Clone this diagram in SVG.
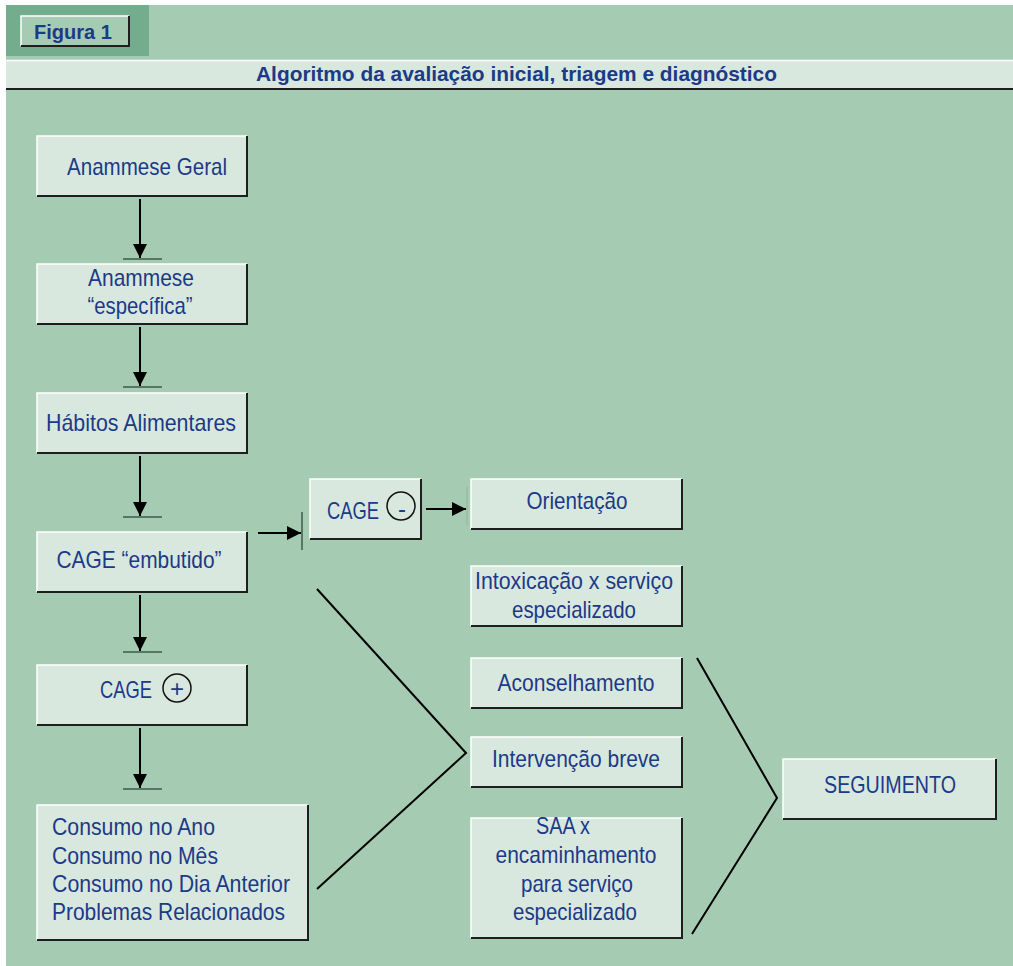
<svg xmlns="http://www.w3.org/2000/svg" width="1013" height="966" viewBox="0 0 1013 966">
<style>
.box{fill:#d9e8df}
.hl{fill:none;stroke:#ffffff;stroke-width:1.5}
.sh{fill:none;stroke:#1e1e1e;stroke-width:2}
.t{font-family:"Liberation Sans Narrow","Liberation Sans",Arial,sans-serif;font-size:24px;fill:#1b3a87;text-anchor:middle}
.tl{font-family:"Liberation Sans Narrow","Liberation Sans",Arial,sans-serif;font-size:24px;fill:#1b3a87}
.b{font-family:"Liberation Sans",Arial,sans-serif;font-weight:bold;fill:#1b3a87}
.c{fill:none;stroke:#000;stroke-width:2}
.bar{stroke:#3c5a48;stroke-width:1.5}
.circ{fill:none;stroke:#111;stroke-width:1.5}
</style>
<defs>
<marker id="ah" viewBox="0 0 10 10" refX="10" refY="5" markerWidth="7" markerHeight="7" orient="auto" markerUnits="strokeWidth">
<path d="M0,0 L10,5 L0,10 Z" fill="#000"/>
</marker>
</defs>
<rect width="1013" height="966" fill="#ffffff"/>
<rect x="6" y="5" width="1007" height="961" fill="#a6cbb3"/>
<g id="figura">
<rect x="6" y="5" width="143" height="51" fill="#74ad8e"/>
<rect x="21" y="16" width="108" height="30" fill="#a6cbb3"/>
<path d="M21,46 V16 H129" class="hl"/>
<path d="M21,46 H129 V16" class="sh"/>
<text x="34" y="39" class="b" font-size="21" textLength="78" lengthAdjust="spacingAndGlyphs">Figura 1</text>
</g>
<g id="title">
<rect x="6" y="60" width="1007" height="29" fill="#d9e8df"/>
<line x1="6" y1="60.5" x2="1013" y2="60.5" stroke="#fff" stroke-width="1.5"/>
<line x1="6" y1="89" x2="1013" y2="89" stroke="#1e1e1e" stroke-width="2"/>
<text x="256" y="81" class="b" font-size="21" textLength="521" lengthAdjust="spacingAndGlyphs">Algoritmo da avaliação inicial, triagem e diagnóstico</text>
</g>
<g id="n1">
<rect x="37" y="136" width="210" height="60" class="box"/>
<path d="M37,196 V136 H247" class="hl"/><path d="M37,196 H247 V136" class="sh"/>
<text x="147" y="175" class="t" textLength="160" lengthAdjust="spacingAndGlyphs">Anammese Geral</text>
</g>
<g id="n2">
<rect x="37" y="264" width="210" height="60" class="box"/>
<path d="M37,324 V264 H247" class="hl"/><path d="M37,324 H247 V264" class="sh"/>
<text x="141" y="286" class="t" textLength="106" lengthAdjust="spacingAndGlyphs">Anammese</text>
<text x="140" y="314" class="t" textLength="105" lengthAdjust="spacingAndGlyphs">“específica”</text>
</g>
<g id="n3">
<rect x="37" y="393" width="210" height="60" class="box"/>
<path d="M37,453 V393 H247" class="hl"/><path d="M37,453 H247 V393" class="sh"/>
<text x="141" y="431" class="t" textLength="190" lengthAdjust="spacingAndGlyphs">Hábitos Alimentares</text>
</g>
<g id="n4">
<rect x="37" y="532" width="210" height="60" class="box"/>
<path d="M37,592 V532 H247" class="hl"/><path d="M37,592 H247 V532" class="sh"/>
<text x="139" y="568" class="t" textLength="165" lengthAdjust="spacingAndGlyphs">CAGE “embutido”</text>
</g>
<g id="n5">
<rect x="37" y="665" width="210" height="60" class="box"/>
<path d="M37,725 V665 H247" class="hl"/><path d="M37,725 H247 V665" class="sh"/>
<text x="126" y="698" class="t" textLength="52" lengthAdjust="spacingAndGlyphs">CAGE</text>
<circle cx="177" cy="688" r="14" class="circ"/>
<text x="177" y="697" class="t" font-size="18">+</text>
</g>
<g id="n6">
<rect x="37" y="805" width="271" height="135" class="box"/>
<path d="M37,940 V805 H308" class="hl"/><path d="M37,940 H308 V805" class="sh"/>
<text x="52" y="835" class="tl" textLength="163" lengthAdjust="spacingAndGlyphs">Consumo no Ano</text>
<text x="52" y="864" class="tl" textLength="166" lengthAdjust="spacingAndGlyphs">Consumo no Mês</text>
<text x="52" y="892" class="tl" textLength="238" lengthAdjust="spacingAndGlyphs">Consumo no Dia Anterior</text>
<text x="52" y="920" class="tl" textLength="233" lengthAdjust="spacingAndGlyphs">Problemas Relacionados</text>
</g>
<g id="n7">
<rect x="310" y="479" width="111" height="60" class="box"/>
<path d="M310,539 V479 H421" class="hl"/><path d="M310,539 H421 V479" class="sh"/>
<text x="353" y="519" class="t" textLength="52" lengthAdjust="spacingAndGlyphs">CAGE</text>
<circle cx="401" cy="506" r="14" class="circ"/>
<text x="402" y="517" class="t" font-size="18">-</text>
</g>
<g id="n8">
<rect x="471" y="479" width="211" height="50" class="box"/>
<path d="M471,529 V479 H682" class="hl"/><path d="M471,529 H682 V479" class="sh"/>
<text x="577" y="509" class="t" textLength="101" lengthAdjust="spacingAndGlyphs">Orientação</text>
</g>
<g id="n9">
<rect x="471" y="566" width="211" height="60" class="box"/>
<path d="M471,626 V566 H682" class="hl"/><path d="M471,626 H682 V566" class="sh"/>
<text x="574" y="589" class="t" textLength="198" lengthAdjust="spacingAndGlyphs">Intoxicação x serviço</text>
<text x="574" y="618" class="t" textLength="124" lengthAdjust="spacingAndGlyphs">especializado</text>
</g>
<g id="n10">
<rect x="471" y="658" width="211" height="50" class="box"/>
<path d="M471,708 V658 H682" class="hl"/><path d="M471,708 H682 V658" class="sh"/>
<text x="576" y="691" class="t" textLength="157" lengthAdjust="spacingAndGlyphs">Aconselhamento</text>
</g>
<g id="n11">
<rect x="471" y="737" width="211" height="50" class="box"/>
<path d="M471,787 V737 H682" class="hl"/><path d="M471,787 H682 V737" class="sh"/>
<text x="576" y="767" class="t" textLength="168" lengthAdjust="spacingAndGlyphs">Intervenção breve</text>
</g>
<g id="n12">
<rect x="471" y="818" width="211" height="120" class="box"/>
<path d="M471,938 V818 H682" class="hl"/><path d="M471,938 H682 V818" class="sh"/>
<text x="563" y="834" class="t" textLength="54" lengthAdjust="spacingAndGlyphs">SAA x</text>
<text x="576" y="863" class="t" textLength="161" lengthAdjust="spacingAndGlyphs">encaminhamento</text>
<text x="577" y="892" class="t" textLength="112" lengthAdjust="spacingAndGlyphs">para serviço</text>
<text x="575" y="920" class="t" textLength="124" lengthAdjust="spacingAndGlyphs">especializado</text>
</g>
<g id="n13">
<rect x="783" y="759" width="213" height="60" class="box"/>
<path d="M783,819 V759 H996" class="hl"/><path d="M783,819 H996 V759" class="sh"/>
<text x="890" y="793" class="t" textLength="132" lengthAdjust="spacingAndGlyphs">SEGUIMENTO</text>
</g>
<g id="connectors">
<line x1="140" y1="199" x2="140" y2="258" class="c" marker-end="url(#ah)"/>
<line x1="123" y1="259" x2="162" y2="259" class="bar"/>
<line x1="140" y1="327" x2="140" y2="386" class="c" marker-end="url(#ah)"/>
<line x1="123" y1="387" x2="162" y2="387" class="bar"/>
<line x1="140" y1="456" x2="140" y2="516" class="c" marker-end="url(#ah)"/>
<line x1="123" y1="517" x2="162" y2="517" class="bar"/>
<line x1="140" y1="595" x2="140" y2="651" class="c" marker-end="url(#ah)"/>
<line x1="123" y1="652" x2="162" y2="652" class="bar"/>
<line x1="140" y1="728" x2="140" y2="788" class="c" marker-end="url(#ah)"/>
<line x1="123" y1="789" x2="162" y2="789" class="bar"/>
<line x1="258" y1="533" x2="301" y2="533" class="c" marker-end="url(#ah)"/>
<line x1="302" y1="512" x2="302" y2="550" class="bar"/>
<line x1="426" y1="509" x2="466" y2="509" class="c" marker-end="url(#ah)"/>
<line x1="467" y1="487" x2="467" y2="525" stroke="#8fb49d" stroke-width="1"/>
<polyline points="317,589 466,753 317,889" class="c"/>
<polyline points="697,658 777,798 692,934" class="c"/>
</g>
</svg>
